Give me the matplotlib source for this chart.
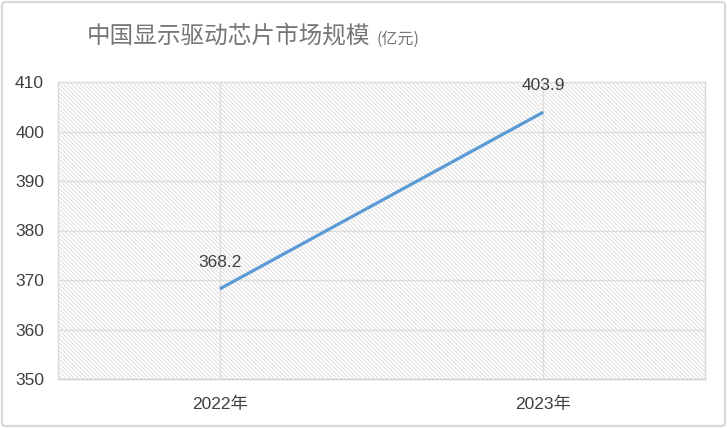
import matplotlib
matplotlib.use("Agg")
import matplotlib.pyplot as plt
from matplotlib.patches import FancyBboxPatch, Rectangle

years = ["2022年", "2023年"]
values = [368.2, 403.9]
yticks = [350, 360, 370, 380, 390, 400, 410]

plt.rcParams['font.family'] = ['Liberation Sans', 'Noto Sans CJK SC', 'DejaVu Sans']
plt.rcParams['hatch.linewidth'] = 0.5

W, H = 727, 428
fig = plt.figure(figsize=(W / 100, H / 100), dpi=100)
fig.patch.set_facecolor('white')

# outer border
fig.patches.append(FancyBboxPatch((2 / W, 2 / H), 1 - 4 / W, 1 - 4 / H,
                                  boxstyle="round,pad=0,rounding_size=0.006",
                                  transform=fig.transFigure, fill=False,
                                  edgecolor='#d9d9d9', linewidth=1.6))

ax = fig.add_axes([58 / W, 1 - 379 / H, (705 - 58) / W, (379 - 82) / H])
ax.set_facecolor('white')
ax.add_patch(Rectangle((0, 0), 1, 1, transform=ax.transAxes, facecolor='white',
                       edgecolor='#d2d2d2', linewidth=0, hatch='\\' * 8, zorder=0.5))

x = list(range(len(years)))
ax.plot(x, values, color='#5b9bd5', linewidth=2.3, solid_capstyle='butt', zorder=3)
for xi, v in zip(x, values):
    ax.annotate(f"{v:.1f}", (xi, v), xytext=(0, 19), textcoords='offset points',
                ha='center', va='center', fontsize=12.5, color='#404040', zorder=4)

ax.set_xlim(-0.5, 1.5)
ax.set_ylim(350, 410)
ax.set_xticks(x)
ax.set_xticklabels(years)
ax.set_yticks(yticks)
ax.grid(True, color='#dedede', linewidth=1.0, zorder=1)
ax.set_axisbelow(False)
for gl in ax.get_xgridlines() + ax.get_ygridlines():
    gl.set_zorder(1)
ax.tick_params(axis='both', length=0, labelsize=12.5, labelcolor='#404040')
ax.tick_params(axis='y', pad=10)
ax.tick_params(axis='x', pad=13)
for s in ax.spines.values():
    s.set_color('#d9d9d9')
    s.set_linewidth(1.0)
ax.spines['bottom'].set_color('#d0d0d0')

fig.text(370 / W, 1 - 36 / H, "中国显示驱动芯片市场规模", ha='right', va='center',
         fontsize=17, color='#767676', family=['Noto Sans CJK SC', 'DejaVu Sans'])
fig.text(377 / W, 1 - 39 / H, "(亿元)", ha='left', va='center',
         fontsize=11.5, color='#767676', family=['Noto Sans CJK SC', 'DejaVu Sans'])

fig.savefig("out.png", dpi=100)
